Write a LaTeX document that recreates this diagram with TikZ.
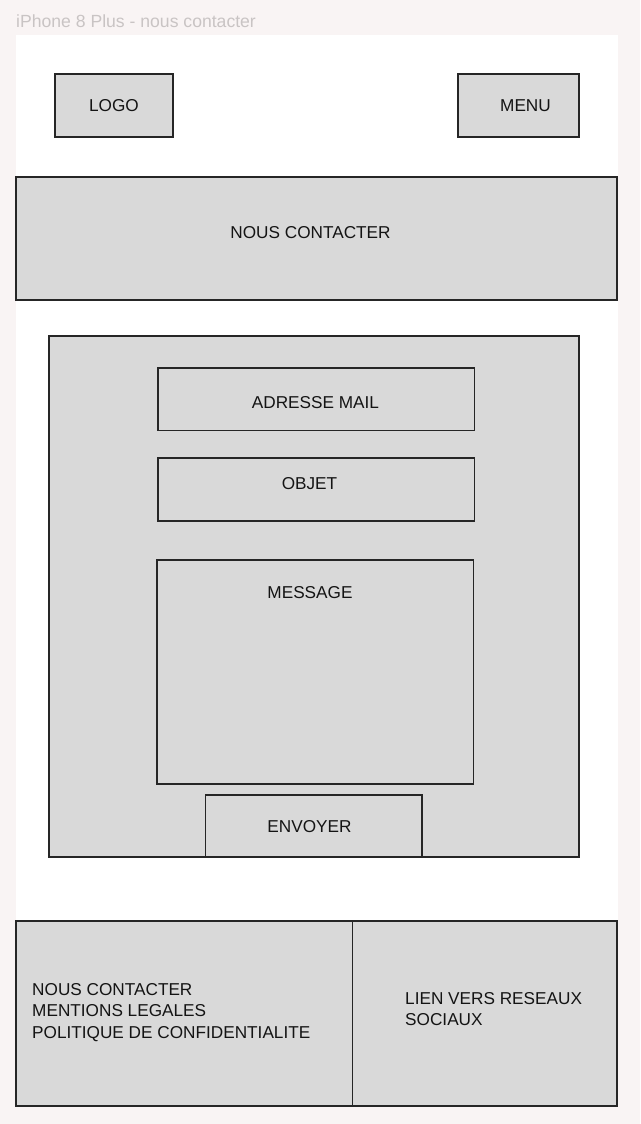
\documentclass[tikz,border=0pt]{standalone}
\usepackage{fontspec}
\setmainfont{Liberation Sans}
\definecolor{pagebg}{HTML}{F9F4F4}
\definecolor{boxfill}{HTML}{D9D9D9}
\definecolor{titlegray}{HTML}{C9C4C4}
\definecolor{edgegray}{HTML}{262626}

\begin{document}
\begin{tikzpicture}[x=1pt,y=-1pt]
% Styles
\tikzset{wfbox/.style={fill=boxfill,draw=edgegray,line width=1.2pt}}
\tikzset{wftext/.style={font=\fontsize{17.2}{21.5}\selectfont,text=black!92,inner sep=0pt}}

% Draw the page
\fill[pagebg] (0,0) rectangle (640,1124);
\useasboundingbox (0,0) rectangle (640,1124);
\fill[white] (16,35) rectangle (618,1106);
\node (title) [anchor=base west,inner sep=0pt,text=titlegray,font=\fontsize{17.6}{20}\selectfont] at (16,27.5) {iPhone 8 Plus - nous contacter};

% header
\draw[wfbox] (55,74) rectangle (173,137);
\draw[wfbox] (458,74) rectangle (579,137);
\node (logo) [wftext] at (114,106) {LOGO};
\node (menu) [wftext] at (525.5,106) {MENU};

% banner
\draw[wfbox] (16,177) rectangle (617,300);
\node (banner) [wftext] at (310.5,233) {NOUS CONTACTER};

% the form
\draw[wfbox] (49,336) rectangle (579,857);
\draw[wfbox] (158,368) rectangle (474.5,430.5);
\draw[wfbox] (158,458) rectangle (474.5,521);
\draw[wfbox] (157,560) rectangle (473.5,784);
\draw[wfbox] (205.5,795) rectangle (422,857);
\node (mail) [wftext] at (315.5,402.5) {ADRESSE MAIL};
\node (objet) [wftext] at (309.5,483.5) {OBJET};
\node (message) [wftext] at (310,592.5) {MESSAGE};
\node (envoyer) [wftext] at (309.5,827) {ENVOYER};

% footer
\draw[wfbox] (16,921) rectangle (352.5,1106);
\draw[wfbox] (352.5,921) rectangle (617,1106);
\node (liens) [wftext,align=left,anchor=north west] at (32,983) {NOUS CONTACTER\\MENTIONS LEGALES\\POLITIQUE DE CONFIDENTIALITE};
\node (reseaux) [wftext,align=left,anchor=north west] at (405,992) {LIEN VERS RESEAUX\\SOCIAUX};
\end{tikzpicture}
\end{document}
